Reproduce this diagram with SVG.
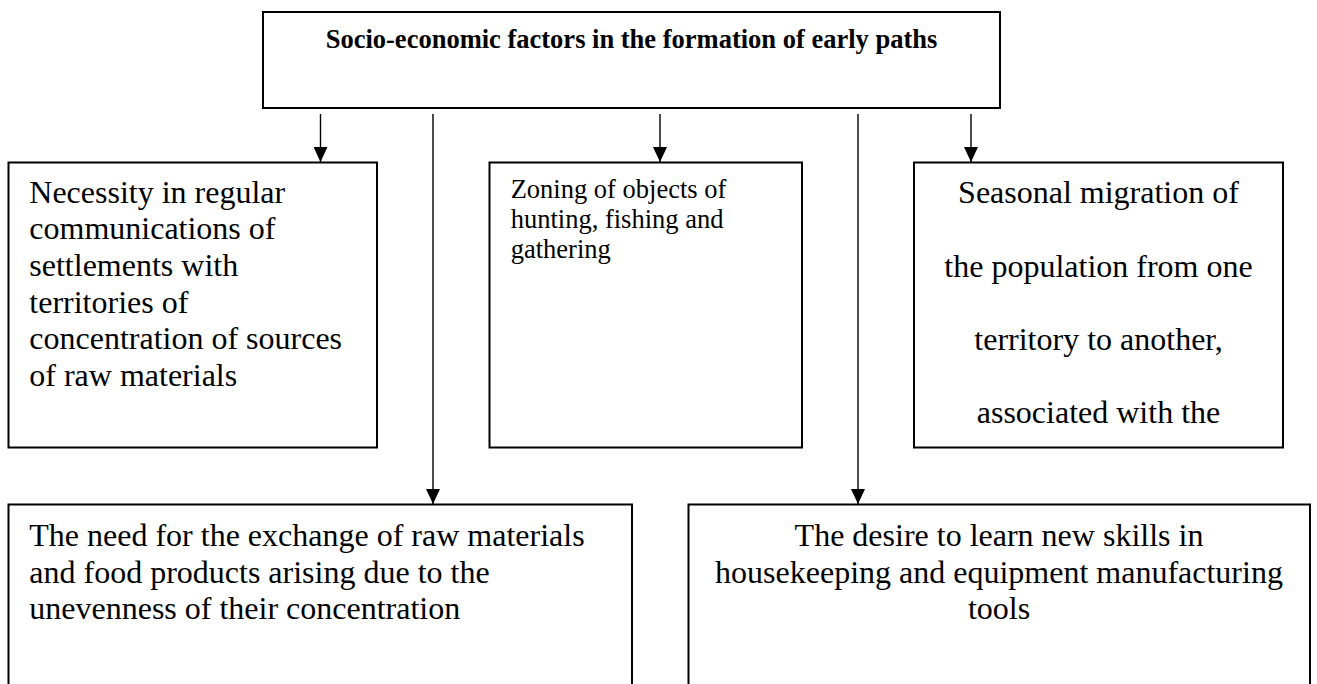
<svg xmlns="http://www.w3.org/2000/svg" width="1317" height="684" viewBox="0 0 1317 684">
<style>
  .box { fill: #ffffff; stroke: #000000; stroke-width: 2; }
  .t { font-family: "Liberation Serif", "Times New Roman", serif; fill: #000000; }
  .big { font-size: 32px; }
  .mid { font-size: 26.5px; }
  .title { font-size: 26.5px; font-weight: bold; }
  .c { text-anchor: middle; }
  .conn { fill: none; stroke: #000000; stroke-width: 1.4; }
</style>
<defs>
  <marker id="arrow" markerUnits="userSpaceOnUse" viewBox="0 0 15 14" markerWidth="15" markerHeight="14" refX="15" refY="7" orient="auto">
    <path d="M0,0 L15,7 L0,14 Z" fill="#000000"/>
  </marker>
</defs>
<rect width="1317" height="684" fill="#ffffff"/>

<g id="connectors">
  <line class="conn" x1="320.5" y1="114" x2="320.5" y2="162" marker-end="url(#arrow)"/>
  <line class="conn" x1="433" y1="114" x2="433" y2="504" marker-end="url(#arrow)"/>
  <line class="conn" x1="660" y1="114" x2="660" y2="162" marker-end="url(#arrow)"/>
  <line class="conn" x1="858" y1="114" x2="858" y2="504" marker-end="url(#arrow)"/>
  <line class="conn" x1="971" y1="114" x2="971" y2="162" marker-end="url(#arrow)"/>
</g>

<g id="node-title">
  <rect class="box" x="263" y="12" width="737" height="96"/>
  <text class="t title c" x="631.5" y="48">Socio-economic factors in the formation of early paths</text>
</g>

<g id="node-necessity">
  <rect class="box" x="8.5" y="162.5" width="368.5" height="285"/>
  <text class="t big" x="29.3" y="202.7">Necessity in regular</text>
  <text class="t big" x="29.3" y="239.3">communications of</text>
  <text class="t big" x="29.3" y="276">settlements with</text>
  <text class="t big" x="29.3" y="312.7">territories of</text>
  <text class="t big" x="29.3" y="349.3">concentration of sources</text>
  <text class="t big" x="29.3" y="386">of raw materials</text>
</g>

<g id="node-zoning">
  <rect class="box" x="489.5" y="162.5" width="312.5" height="285"/>
  <text class="t mid" x="510.7" y="197.7">Zoning of objects of</text>
  <text class="t mid" x="510.7" y="228">hunting, fishing and</text>
  <text class="t mid" x="510.7" y="258.3">gathering</text>
</g>

<g id="node-seasonal">
  <rect class="box" x="914" y="162.5" width="369" height="285"/>
  <text class="t big c" x="1098.5" y="203.3">Seasonal migration of</text>
  <text class="t big c" x="1098.5" y="276.7">the population from one</text>
  <text class="t big c" x="1098.5" y="350">territory to another,</text>
  <text class="t big c" x="1098.5" y="423.3">associated with the</text>
</g>

<g id="node-exchange">
  <rect class="box" x="8.5" y="504.5" width="623.5" height="220"/>
  <text class="t big" x="29.3" y="546">The need for the exchange of raw materials</text>
  <text class="t big" x="29.3" y="582.5">and food products arising due to the</text>
  <text class="t big" x="29.3" y="618.5">unevenness of their concentration</text>
</g>

<g id="node-skills">
  <rect class="box" x="688.5" y="504.5" width="621.5" height="220"/>
  <text class="t big c" x="999" y="546">The desire to learn new skills in</text>
  <text class="t big c" x="999" y="582.5">housekeeping and equipment manufacturing</text>
  <text class="t big c" x="999" y="618.5">tools</text>
</g>
</svg>
